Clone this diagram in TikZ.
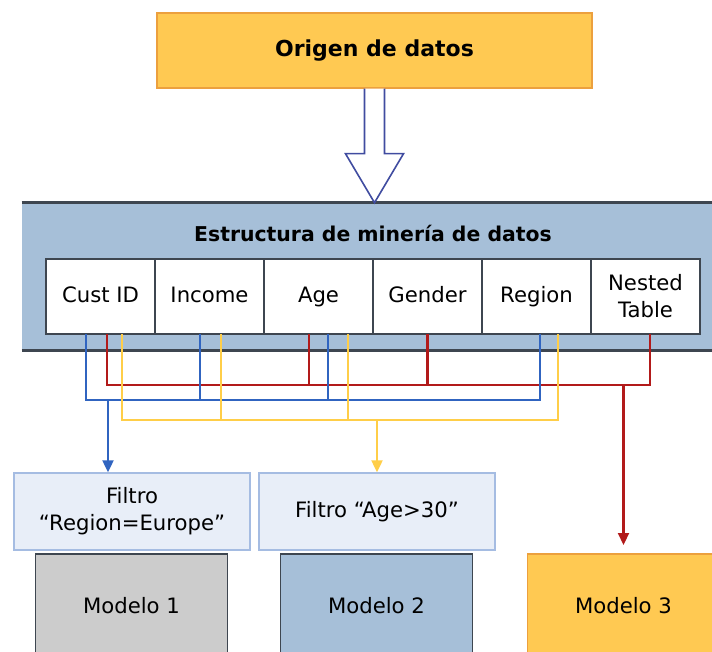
\documentclass[tikz,border=0pt]{standalone}
\usepackage{fontspec}
\setmainfont{DejaVu Sans}
\usetikzlibrary{positioning,calc,arrows.meta}

\definecolor{naranja}{RGB}{255,201,82}
\definecolor{borde naranja}{RGB}{236,160,62}
\definecolor{banda}{RGB}{166,191,216}
\definecolor{oscuro}{RGB}{62,70,80}
\definecolor{filtro}{RGB}{232,238,248}
\definecolor{borde filtro}{RGB}{165,188,226}
\definecolor{gris}{RGB}{204,204,204}
\definecolor{azul}{RGB}{48,100,192}
\definecolor{rojo}{RGB}{178,26,26}
\definecolor{amarillo}{RGB}{255,206,72}
\definecolor{indigo}{RGB}{64,76,160}

\begin{document}
\begin{tikzpicture}[x=0.5pt,y=-0.5pt,
  texto/.style={font=\fontsize{10.6}{13.5}\selectfont,align=center},
  celda/.style={texto,draw=oscuro,fill=white,line width=0.7pt,minimum width=54.5pt,minimum height=37.5pt,inner sep=0pt,outer sep=0pt},
  columna/.style={celda,text height=7.6pt,text depth=1.6pt},
  cajafiltro/.style={texto,draw=borde filtro,fill=filtro,line width=0.7pt,minimum width=118pt,minimum height=38.5pt,inner sep=0pt},
  modelo/.style={texto,draw=oscuro,line width=0.9pt,minimum width=96pt,minimum height=52pt,inner sep=0pt},
  linea/.style={line width=1.1pt},
  punta/.style={-{Triangle[width=5.5pt,length=6pt]}}]
\clip (0,0) rectangle (712,652);
% origen y estructura
\node[draw=borde naranja,fill=naranja,line width=0.7pt,minimum width=217.5pt,minimum height=37.5pt,
  font=\bfseries\fontsize{11}{13}\selectfont] (origen) at (374.5,50.5) {Origen de datos};
\node[fill=banda,minimum width=349pt,minimum height=73.5pt,inner sep=0pt] (banda) at (371,276.5) {};
\draw[oscuro,line width=1.4pt] (banda.north west) -- (banda.north east);
\draw[oscuro,line width=1.4pt] (banda.south west) -- (banda.south east);
\node[font=\bfseries\fontsize{10.2}{12}\selectfont] (titulo) at (373,233) {Estructura de minería de datos};
\draw[indigo,fill=white,line width=0.8pt] ($(origen.south)+(-10,0)$) -- ++(0,65) -- ++(-19,0)
  -- ++(29,49) -- ++(29,-49) -- ++(-19,0) -- ++(0,-65);

% columnas
\node[columna] (cust) at (100.5,296.5) {Cust ID};
\node[columna,right=0pt of cust] (income) {Income};
\node[columna,right=0pt of income] (age) {Age};
\node[columna,right=0pt of age] (gender) {Gender};
\node[columna,right=0pt of gender] (region) {Region};
\node[celda,right=0pt of region] (nested) {Nested\\Table};

% filtros y modelos
\node[cajafiltro] (filtro1) at (132,511.5) {Filtro\\“Region=Europe”};
\node[cajafiltro] (filtro2) at (377,511.5) {Filtro “Age>30”};
\node[modelo,fill=gris,anchor=north] (modelo1) at (131.5,553) {Modelo 1};
\node[modelo,fill=banda,anchor=north] (modelo2) at (376.5,553) {Modelo 2};
\node[modelo,fill=naranja,draw=borde naranja,anchor=north] (modelo3) at (623.5,553) {Modelo 3};

% rojo
\draw[linea,rojo] ($(cust.south)+(6.5,0)$) |- ($(nested.south)+(4.5,51)$) -- ($(nested.south)+(4.5,0)$);
\foreach \c/\d in {age/-9.5,gender/0}
  \draw[linea,rojo] ($(\c.south)+(\d,0)$) -- ++(0,51);
\draw[linea,rojo,punta,shorten >=4pt] ($(modelo3.north)+(0,-168)$) -- (modelo3.north);
% azul
\draw[linea,azul] ($(cust.south)+(-14.5,0)$) |- ($(region.south)+(3.5,66)$) -- ($(region.south)+(3.5,0)$);
\foreach \c/\d in {income/-9.5,age/9.5}
  \draw[linea,azul] ($(\c.south)+(\d,0)$) -- ++(0,66);
\draw[linea,azul,punta] ($(filtro1.north)+(-24,-73)$) -- ($(filtro1.north)+(-24,0)$);
% amarillo
\draw[linea,amarillo] ($(cust.south)+(21.5,0)$) |- ($(region.south)+(21.5,86)$) -- ($(region.south)+(21.5,0)$);
\foreach \c/\d in {income/11.5,age/29.5}
  \draw[linea,amarillo] ($(\c.south)+(\d,0)$) -- ++(0,86);
\draw[linea,amarillo,punta] ($(filtro2.north)+(0,-53)$) -- (filtro2.north);
\end{tikzpicture}
\end{document}
